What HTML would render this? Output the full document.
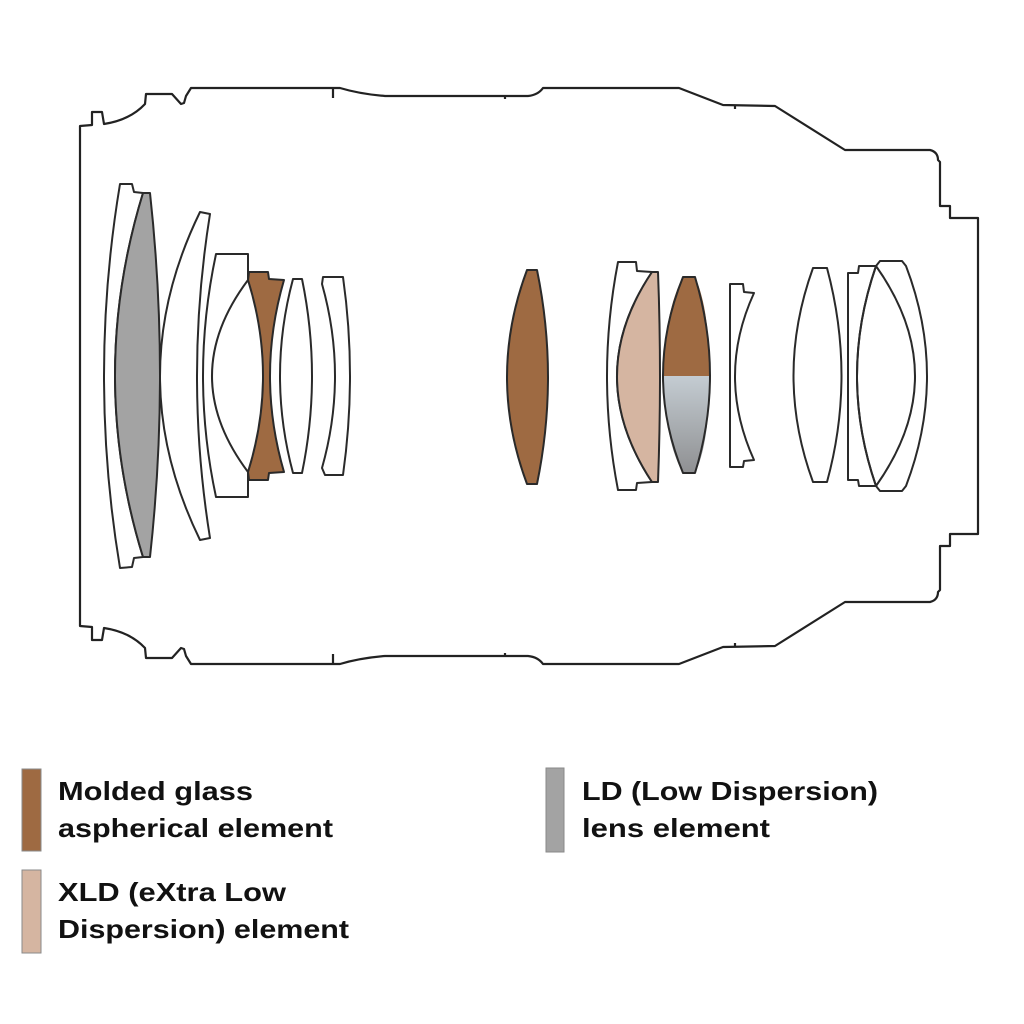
<!DOCTYPE html>
<html><head><meta charset="utf-8"><style>
html,body{margin:0;padding:0;background:#fff;width:1024px;height:1024px;overflow:hidden}
svg{display:block}
text{font-family:"Liberation Sans",Arial,sans-serif;font-weight:bold;font-size:26px;fill:#111}
</style></head><body>
<svg width="1024" height="1024" viewBox="0 0 1024 1024" xmlns="http://www.w3.org/2000/svg">
<defs>
<linearGradient id="gr" x1="0" y1="0" x2="0" y2="1"><stop offset="0" stop-color="#c4ccd2"/><stop offset="1" stop-color="#8f9092"/></linearGradient>
<path id="half" d="M80,376 L80,126 L92,125 L92,112 L102,112 L104,124 Q130,120 145,104 L146,94 L172,94 L181,104 L184,103 L186,96 L191,88 L340,88 Q360,94 385,96 L528,96 Q538,95 543,88 L679,88 L723,105 L775,106 L845,150 L930,150 Q938,152 938,160 L940,162 L940,206 L950,206 L950,218 L978,218 L978,376"/>
</defs>
<g fill="none" stroke="#222" stroke-width="2.2" stroke-linejoin="round">
<use href="#half"/>
<use href="#half" transform="translate(0,752) scale(1,-1)"/>
<line x1="333" y1="88" x2="333" y2="98"/>
<line x1="333" y1="664" x2="333" y2="654"/>
<line x1="505" y1="96" x2="505" y2="99"/>
<line x1="505" y1="656" x2="505" y2="653"/>
<line x1="735" y1="106" x2="735" y2="109"/>
<line x1="735" y1="646" x2="735" y2="643"/>
</g>
<g stroke="#2a2a2a" stroke-width="2" stroke-linejoin="round">
<path fill="#fff" d="M120,184 L132,184 L134,192 L143,193 Q87,376 143,557 L134,558 L132,567 L120,568 Q88,376 120,184 Z"/>
<path fill="#a3a3a3" d="M143,193 L150,193 Q170,376 150,557 L143,557 Q87,376 143,193 Z"/>
<path fill="#fff" d="M200,212 L210,214 Q184,376 210,538 L200,540 Q120,376 200,212 Z"/>
<path fill="#fff" d="M216,254 L248,254 L248,280 Q176,376 248,472 L248,497 L216,497 Q190,376 216,254 Z"/>
<path fill="#9e6a42" d="M249,272 L268,272 L269,279 L284,280 Q256,376 284,472 L269,473 L268,480 L249,480 L248,472 Q278,376 248,280 Z"/>
<path fill="#fff" d="M293,279 L302,279 Q322,376 302,473 L293,473 Q267,376 293,279 Z"/>
<path fill="#fff" d="M323,277 L343,277 Q357,376 343,475 L325,475 L322,468 Q348,376 322,284 Z"/>
<path fill="#9e6a42" d="M527,270 L537,270 Q559,377 537,484 L527,484 Q487,377 527,270 Z"/>
<path fill="#fff" d="M618,262 L636,262 L637,271 L652,272 Q582,376 652,482 L637,483 L636,490 L618,490 Q596,376 618,262 Z"/>
<path fill="#d5b5a1" d="M652,272 L658,272 Q662,376 658,482 L652,482 Q582,376 652,272 Z"/>
<path fill="#9e6a42" stroke="none" d="M683,277 L695,277 Q710,310 709,376 L663,376 Q665,310 683,277 Z"/>
<path fill="url(#gr)" stroke="none" d="M663,376 L709,376 Q710,442 695,473 L683,473 Q665,442 663,376 Z"/>
<path fill="none" d="M683,277 L695,277 Q725,376 695,473 L683,473 Q643,376 683,277 Z"/>
<path fill="#fff" d="M730,284 L743,284 L744,292 L754,293 Q716,376 754,460 L744,461 L743,467 L730,467 Z"/>
<path fill="#fff" d="M813,268 L827,268 Q856,376 827,482 L813,482 Q774,376 813,268 Z"/>
<path fill="#fff" d="M848,273 L858,273 L859,266 L876,266 Q838,376 876,486 L859,486 L858,480 L848,480 Z"/>
<path fill="#fff" d="M876,266 L880,261 L902,261 L906,266 Q948,376 906,486 L902,491 L880,491 L876,486 Q954,376 876,266 Z"/>
<path fill="none" d="M876,266 Q838,376 876,486"/>
</g>
<rect x="22" y="769" width="19" height="82" fill="#9e6a42" stroke="#8a8a8a" stroke-width="1"/>
<rect x="22" y="870" width="19" height="83" fill="#d5b5a1" stroke="#8a8a8a" stroke-width="1"/>
<rect x="546" y="768" width="18" height="84" fill="#a3a3a3" stroke="#8a8a8a" stroke-width="1"/>
<text x="58" y="800" textLength="195" lengthAdjust="spacingAndGlyphs">Molded glass</text>
<text x="58" y="837" textLength="275" lengthAdjust="spacingAndGlyphs">aspherical element</text>
<text x="58" y="901" textLength="228" lengthAdjust="spacingAndGlyphs">XLD (eXtra Low</text>
<text x="58" y="938" textLength="291" lengthAdjust="spacingAndGlyphs">Dispersion) element</text>
<text x="582" y="800" textLength="296" lengthAdjust="spacingAndGlyphs">LD (Low Dispersion)</text>
<text x="582" y="837" textLength="188" lengthAdjust="spacingAndGlyphs">lens element</text>
</svg>
</body></html>
